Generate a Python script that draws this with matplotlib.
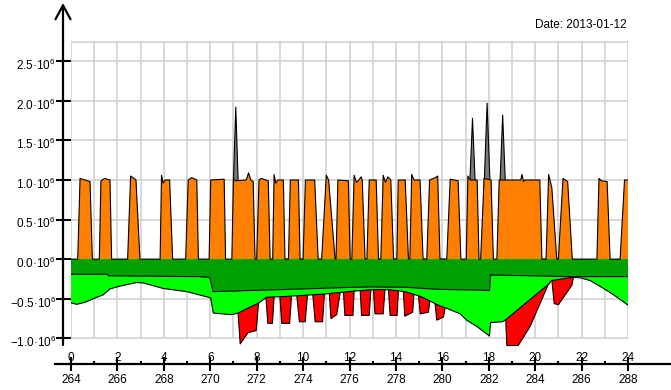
import matplotlib
matplotlib.use('Agg')
import matplotlib.pyplot as plt
import matplotlib.transforms as mtransforms
import numpy as np
from matplotlib.lines import Line2D

plt.rcParams['font.family'] = ['Liberation Sans', 'DejaVu Sans']
plt.rcParams['mathtext.fontset'] = 'custom'
plt.rcParams['mathtext.rm'] = 'Liberation Sans'
plt.rcParams['mathtext.it'] = 'Liberation Sans:italic'
plt.rcParams['mathtext.bf'] = 'Liberation Sans:bold'

nan = np.nan

# orange production pulses (hours, value in 1e6)
orange_h = [0.0,
            0.29, 0.39, 0.6, 0.82, 0.92,
            1.22, 1.29, 1.45, 1.68, 1.75,
            2.44, 2.57, 2.8, 2.97,
            3.84, 3.9, 3.97, 4.05, 4.25, 4.38,
            4.94, 5.05, 5.2, 5.42, 5.49,
            5.95, 6.02, 6.6, 6.66,
            6.93, 7.0, 7.08, 7.55, 7.65, 7.75, 7.85, 7.93,
            8.0, 8.1, 8.2, 8.5, 8.58,
            8.69, 8.75, 8.82, 8.9, 9.15, 9.22,
            9.37, 9.45, 9.8, 9.87,
            10.0, 10.1, 10.5, 10.65,
            10.8, 11.0, 11.1, 11.38,
            11.42, 11.5, 11.95, 12.03,
            12.1, 12.2, 12.3, 12.4, 12.5, 12.55, 12.67,
            12.75, 12.85, 13.15, 13.25,
            13.35, 13.45, 13.55, 13.65, 13.78, 13.9,
            14.04, 14.1, 14.4, 14.54,
            14.6, 14.68, 14.78, 15.04, 15.17,
            15.33, 15.45, 15.7, 15.8, 15.9,
            16.19, 16.34, 16.5, 16.68, 16.8,
            17.03, 17.1, 17.2, 17.5, 17.58,
            17.65, 17.8, 18.1, 18.2,
            18.35, 18.45, 19.38, 19.43, 19.5, 19.55, 20.2, 20.29,
            20.47, 20.58, 20.72, 20.93,
            21.0, 21.2, 21.4, 21.6,
            22.66, 22.75, 22.85, 23.1, 23.23,
            23.66, 23.85, 24.0]
orange_v = [0.0,
            0, 1.02, 1.0, 0.98, 0,
            0, 0.99, 1.02, 1.0, 0,
            0, 1.05, 1.0, 0,
            0, 1.06, 0.96, 1.0, 1.0, 0,
            0, 1.0, 1.03, 1.0, 0,
            0, 1.0, 1.01, 0,
            0, 1.02, 0.99, 1.0, 1.09, 1.0, 0.98, 0,
            0, 1.0, 1.02, 0.99, 0,
            0, 1.07, 0.96, 1.0, 1.0, 0,
            0, 1.0, 1.0, 0,
            0, 1.0, 1.0, 0,
            0, 1.06, 1.0, 0,
            0, 1.0, 0.99, 0,
            0, 1.06, 0.97, 1.0, 1.04, 1.0, 0,
            0, 1.0, 1.0, 0,
            0, 1.06, 0.97, 1.04, 1.0, 0,
            0, 1.0, 1.0, 0,
            0, 1.07, 1.0, 1.0, 0,
            0, 1.0, 1.03, 1.05, 0,
            0, 1.01, 1.0, 0.99, 0,
            0, 1.05, 1.0, 1.0, 0,
            0, 1.02, 1.0, 0,
            0, 1.0, 1.0, 1.07, 0.98, 1.0, 1.0, 0,
            0, 1.07, 0.9, 0,
            0, 1.02, 0.98, 0,
            0, 1.02, 0.99, 0.98, 0,
            0, 1.0, 1.0]

# grey peaks sticking out above the orange
gray_h = [7.0, 7.1, 7.2, nan, 17.19, 17.3, 17.41, nan, 17.81, 17.93, 18.05, nan, 18.49, 18.6, 18.71]
gray_v = [1.0, 1.92, 1.0, nan, 1.0, 1.78, 1.0, nan, 1.0, 1.97, 1.0, nan, 1.0, 1.82, 1.0]

# dark green band lower edge
dg_h = [0, 1.55, 1.62, 5.5, 5.98, 6.12, 8.4, 10.6, 11.6, 13.0, 14.4, 15.8, 17.5, 18.03, 18.08, 19.9, 21.4, 24]
dg_v = [-0.19, -0.19, -0.21, -0.22, -0.23, -0.41, -0.39, -0.37, -0.36, -0.35, -0.355, -0.38, -0.39, -0.395,
        -0.20, -0.21, -0.22, -0.22]

# light green lower edge
lime_h = [0, 0.24, 0.6, 1.03, 1.39, 1.68, 2.11, 2.83, 3.12, 3.98, 4.99, 5.92, 6.02, 6.13, 6.49, 6.93, 7.2,
          8.1, 8.43, 9.3, 10.9, 12.3, 13.0, 13.7, 14.4, 15.1, 15.82, 16.19, 16.77, 17.05, 17.49, 18.03,
          18.08, 18.6, 18.75, 20.6, 20.7, 21.58, 21.95, 22.37, 22.95, 23.38, 24]
lime_v = [-0.55, -0.57, -0.545, -0.49, -0.45, -0.375, -0.34, -0.295, -0.30, -0.37, -0.41, -0.48, -0.49, -0.68,
          -0.69, -0.70, -0.68, -0.55, -0.48, -0.47, -0.44, -0.40, -0.385, -0.385, -0.41, -0.475, -0.58, -0.62,
          -0.69, -0.77, -0.85, -0.97, -0.80, -0.79, -0.76, -0.31, -0.27, -0.23, -0.235, -0.27, -0.37, -0.45, -0.58]

# red pulses below the light green
red_h = [7.2, 7.29, 7.62, 7.98, 8.08, nan,
         8.40, 8.48, 8.68, 8.75, nan,
         9.0, 9.08, 9.42, 9.5, nan,
         9.73, 9.84, 10.09, 10.19, nan,
         10.42, 10.52, 10.84, 10.92, nan,
         11.13, 11.2, 11.45, 11.6, nan,
         11.74, 11.8, 12.15, 12.2, nan,
         12.46, 12.52, 12.85, 12.92, nan,
         13.03, 13.1, 13.45, 13.53, nan,
         13.68, 13.75, 14.05, 14.11, nan,
         14.32, 14.38, 14.72, 14.78, nan,
         14.97, 15.05, 15.4, 15.47, nan,
         15.69, 15.76, 16.05, 16.12, nan,
         18.73, 18.78, 19.27, 19.78, 20.55, 20.6, nan,
         20.72, 20.82, 21.0, 21.58, 21.65]
red_v = [-0.68, -1.07, -0.93, -0.90, -0.56, nan,
         -0.49, -0.81, -0.81, -0.48, nan,
         -0.47, -0.81, -0.81, -0.47, nan,
         -0.46, -0.79, -0.79, -0.455, nan,
         -0.45, -0.79, -0.79, -0.44, nan,
         -0.43, -0.75, -0.70, -0.42, nan,
         -0.415, -0.71, -0.71, -0.405, nan,
         -0.395, -0.71, -0.71, -0.39, nan,
         -0.385, -0.69, -0.69, -0.385, nan,
         -0.385, -0.71, -0.71, -0.39, nan,
         -0.40, -0.72, -0.67, -0.43, nan,
         -0.46, -0.69, -0.67, -0.50, nan,
         -0.565, -0.77, -0.73, -0.61, nan,
         -0.76, -1.09, -1.09, -0.85, -0.33, -0.31, nan,
         -0.27, -0.56, -0.575, -0.33, -0.23]

ytick_vals = [-1.0, -0.5, 0.0, 0.5, 1.0, 1.5, 2.0, 2.5]
ytick_labels = [r'$\mathrm{%.1f}$' % v + '·10' + r'$^{\mathrm{6}}$' for v in ytick_vals]
hour_ticks = list(range(0, 25, 2))
hour_labels_bottom = [str(264 + h) for h in hour_ticks]
date_text = 'Date: 2013-01-12'

W, H = 671, 390
fig = plt.figure(figsize=(W / 100, H / 100), dpi=100)
y_lo, y_hi = -1.12, 2.78
ppu = 79.2      # pixels per 1e6
y0_px = 259.2
top_px = y0_px - y_hi * ppu
bot_px = y0_px - y_lo * ppu
ax = fig.add_axes([71 / W, 1 - bot_px / H, 557 / W, (bot_px - top_px) / H])
ax.set_xlim(0, 24)
ax.set_ylim(y_lo, y_hi)
for s in ax.spines.values():
    s.set_visible(False)

# grid box
grid_top = 2.742
ax.vlines(range(0, 25), -1.0, grid_top, color='#d2d2d2', lw=1.2, zorder=0)
ax.hlines(ytick_vals + [grid_top], 0, 24, color='#d2d2d2', lw=1.2, zorder=0)

red_h = np.array(red_h, float)
red_v = np.array(red_v, float)
gray_h = np.array(gray_h, float)
gray_v = np.array(gray_v, float)

ax.fill_between(red_h, 0, red_v, facecolor='#ff0000', edgecolor='black', lw=0.8, zorder=2)
ax.fill_between(gray_h, 0.5, gray_v, facecolor='#7a7a7a', edgecolor='black', lw=0.8, zorder=2)
ax.fill_between(orange_h, 0, orange_v, facecolor='#ff8000', lw=0, zorder=3)
ax.fill_between(lime_h, 0, lime_v, facecolor='#00ff00', lw=0, zorder=3)
ax.fill_between(dg_h, 0, dg_v, facecolor='#00a000', lw=0, zorder=4)
ax.plot(lime_h, lime_v, color='black', lw=0.8, zorder=5)
ax.plot(dg_h, dg_v, color='black', lw=0.8, zorder=5)
ax.plot(orange_h, orange_v, color='black', lw=0.8, zorder=5)

# y axis
ax.spines['left'].set_position(('outward', 5.8))
ax.set_yticks(ytick_vals)
ax.set_yticklabels([])
ax.tick_params(axis='y', direction='inout', length=10.8, width=1.5)
ylab_tr = mtransforms.blended_transform_factory(fig.transFigure, ax.transData)
for v, lab in zip(ytick_vals, ytick_labels):
    ax.text(56 / W, v, lab, transform=ylab_tr + mtransforms.ScaledTranslation(0, -3 / 72, fig.dpi_scale_trans),
            ha='right', va='center', fontsize=8.5)
ax.annotate('', xy=(63, H - 3), xycoords='figure pixels', xytext=(63, H - 345), textcoords='figure pixels',
            arrowprops=dict(arrowstyle='->,head_length=1.0,head_width=0.54', lw=1.6, color='black',
                            mutation_scale=10, shrinkA=0, shrinkB=0))

# x axis
xaxis_px = 364
ax.spines['bottom'].set_position(('outward', (xaxis_px - bot_px) * 0.72))
ax.set_xticks(hour_ticks)
ax.set_xticklabels(hour_labels_bottom)
ax.set_xticks(range(1, 24, 2), minor=True)
ax.tick_params(axis='x', which='major', direction='inout', length=10, width=1.5, pad=2.5, labelsize=8.5)
ax.tick_params(axis='x', which='minor', direction='in', length=2.2, width=1.5)
fig.add_artist(Line2D([55 / W, 1.0], [1 - xaxis_px / H] * 2, color='black', lw=1.6))
xlab_tr = mtransforms.blended_transform_factory(ax.transData, fig.transFigure)
for h in hour_ticks:
    ax.text(h, 1 - 361 / H, str(h), transform=xlab_tr, ha='center', va='baseline', fontsize=8.5)

fig.text(627 / W, 1 - 28 / H, date_text, ha='right', va='baseline', fontsize=8.5)

fig.savefig('out.png', dpi=100)
